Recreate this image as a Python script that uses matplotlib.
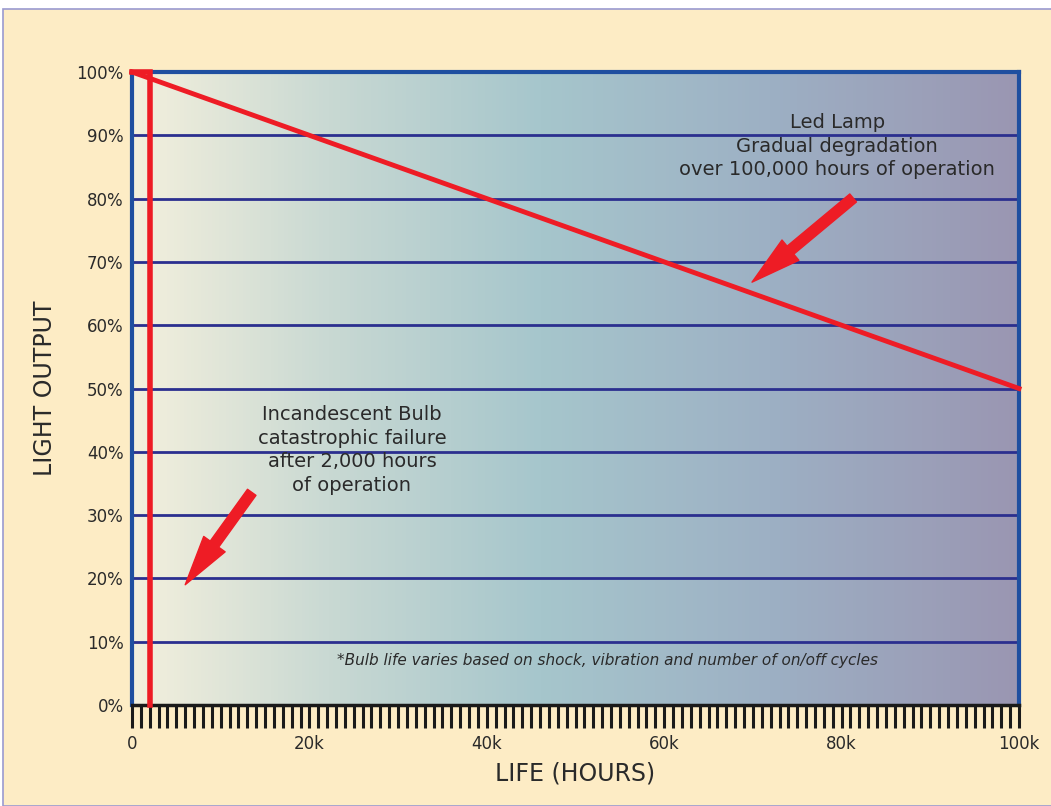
import numpy as np
import matplotlib.pyplot as plt
from matplotlib.colors import LinearSegmentedColormap
from matplotlib.patches import Rectangle

# data
led_hours = [0, 100000]
led_output = [100, 50]
bulb_fail_hours = 2000
y_ticks = [0, 10, 20, 30, 40, 50, 60, 70, 80, 90, 100]
y_labels = ["0%", "10%", "20%", "30%", "40%", "50%", "60%", "70%", "80%", "90%", "100%"]
x_ticks = [0, 20000, 40000, 60000, 80000, 100000]
x_labels = ["0", "20k", "40k", "60k", "80k", "100k"]

RED = "#ee1c25"
CREAM = "#fdecc5"
GRID = "#2b2f8f"
FRAME = "#1f4fa0"
TEXT = "#2a2a2a"

fig = plt.figure(figsize=(10.51, 8.06), dpi=100)
fig.patch.set_facecolor("white")
# cream page with thin border
page = Rectangle((3 / 1051, 0), 1.0, 1 - 9 / 806, transform=fig.transFigure,
                 facecolor=CREAM, edgecolor="#9a9ad0", lw=1.2, zorder=-10)
fig.add_artist(page)

ax = fig.add_axes([132 / 1051, 1 - 705 / 806, 887 / 1051, 633 / 806])
ax.set_zorder(1)
ax.set_xlim(0, 100000)
ax.set_ylim(0, 100)

# gradient background
grad = LinearSegmentedColormap.from_list(
    "bg", [(0, "#f4f0dd"), (0.22, "#c9d9d3"), (0.46, "#a6c6cc"), (0.72, "#9db0c4"), (1, "#9a96b2")])
ax.imshow(np.linspace(0, 1, 256).reshape(1, -1), cmap=grad, aspect="auto",
          extent=[0, 100000, 0, 100], zorder=0)

# horizontal grid lines
for y in y_ticks[1:-1]:
    ax.axhline(y, color=GRID, lw=2, zorder=1)

for side in ["left", "right", "top"]:
    ax.spines[side].set_color(FRAME)
    ax.spines[side].set_linewidth(3)
ax.spines["bottom"].set_color("#1a1a1a")
ax.spines["bottom"].set_linewidth(2.5)

# LED line and bulb line
ax.plot(led_hours, led_output, color=RED, lw=3.5, zorder=3, clip_on=False)
ax.plot([0, bulb_fail_hours, bulb_fail_hours], [100, 100, 0], color=RED, lw=4,
        zorder=3, clip_on=False, solid_joinstyle="miter")

# arrows
arrow_style = "simple,head_length=3.6,head_width=1.9,tail_width=0.75"
ax.annotate("", xy=(69900, 66.8), xytext=(81300, 80.1),
            arrowprops=dict(arrowstyle=arrow_style, color=RED, shrinkA=0, shrinkB=0), zorder=4)
ax.annotate("", xy=(6000, 19.0), xytext=(13500, 33.6),
            arrowprops=dict(arrowstyle=arrow_style, color=RED, shrinkA=0, shrinkB=0), zorder=4)

# annotations
ax.text(79500, 88.3, "Led Lamp\nGradual degradation\nover 100,000 hours of operation",
        ha="center", va="center", fontsize=14, color=TEXT, linespacing=1.3, zorder=5)
ax.text(24800, 40.3, "Incandescent Bulb\ncatastrophic failure\nafter 2,000 hours\nof operation",
        ha="center", va="center", fontsize=14, color=TEXT, linespacing=1.3, zorder=5)
ax.text(53600, 7.1, "*Bulb life varies based on shock, vibration and number of on/off cycles",
        ha="center", va="center", fontsize=11, style="italic", color=TEXT, zorder=5)

# ticks
ax.set_yticks(y_ticks)
ax.set_yticklabels(y_labels, fontsize=12, color=TEXT)
ax.tick_params(axis="y", length=0, pad=6)
ax.set_xticks(x_ticks)
ax.set_xticklabels(x_labels, fontsize=12, color=TEXT)
ax.set_xticks(np.arange(0, 100001, 1000), minor=True)
ax.tick_params(axis="x", which="both", direction="out", length=16.5, width=2.2,
               color="#1a1a1a", pad=5)

ax.set_xlabel("LIFE (HOURS)", fontsize=17, color=TEXT, labelpad=6)
ax.set_ylabel("LIGHT OUTPUT", fontsize=17, color=TEXT, labelpad=14)

fig.savefig("out.png", dpi=100)
